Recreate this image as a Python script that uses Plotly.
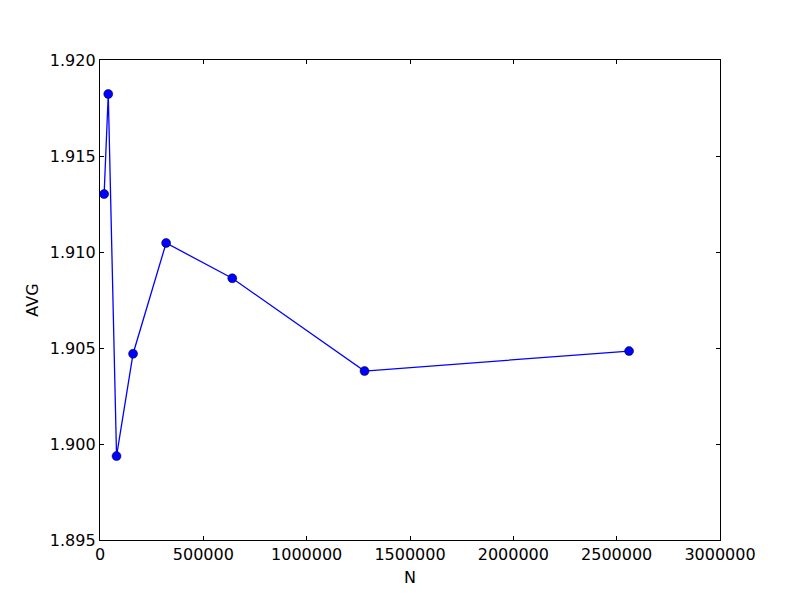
import plotly.graph_objects as go

n_values = [20000, 40000, 80000, 160000, 320000, 640000, 1280000, 2560000]
avg_values = [1.91302, 1.91823, 1.89937, 1.90470, 1.91047, 1.90863, 1.90380, 1.90484]

x_ticks = [0, 500000, 1000000, 1500000, 2000000, 2500000, 3000000]
y_ticks = [1.895, 1.900, 1.905, 1.910, 1.915, 1.920]

fig = go.Figure()
fig.add_trace(go.Scatter(
    x=n_values, y=avg_values,
    mode="lines+markers",
    line=dict(color="#0000ff", width=1.3),
    marker=dict(color="#0000ff", size=9, line=dict(color="black", width=0.5)),
    showlegend=False,
))

axis_style = dict(
    showline=True, linecolor="black", linewidth=1.3, mirror="allticks",
    ticks="inside", ticklen=4, tickcolor="black", tickwidth=1,
    showgrid=False, zeroline=False,
    tickfont=dict(family="DejaVu Sans", size=16, color="black"),
)

fig.update_xaxes(
    range=[0, 3000000], tickvals=x_ticks, tickformat="d",
    title=dict(text="N", font=dict(family="DejaVu Sans", size=16, color="black"), standoff=8),
    **axis_style,
)
fig.update_yaxes(
    range=[1.895, 1.920], tickvals=y_ticks, tickformat=".3f",
    title=dict(text="AVG", font=dict(family="DejaVu Sans", size=16, color="black"), standoff=7),
    **axis_style,
)

# the page adds an 8px body margin, so offset the plot area to land where the reference has it
fig.update_layout(
    width=800, height=600,
    margin=dict(l=92, r=88, t=52, b=68),
    plot_bgcolor="white", paper_bgcolor="white",
)

fig.write_html("out.html")
